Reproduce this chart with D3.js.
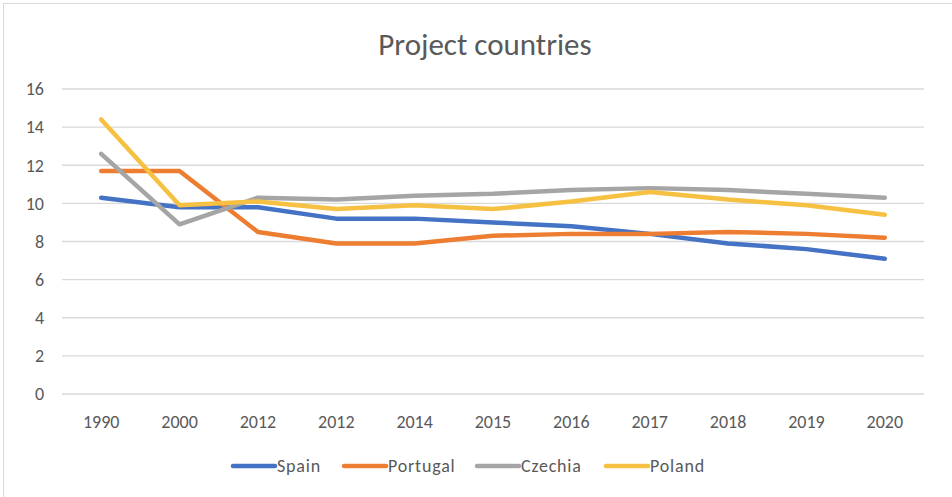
<!DOCTYPE html>
<html>
<head>
<meta charset="utf-8">
<script src="https://cdn.jsdelivr.net/npm/d3@7"></script>
<style>
  body { margin: 0; background: #fff; }
  svg { font-family: Calibri, Carlito, Lato, "Open Sans", sans-serif; }
</style>
</head>
<body>
<div id="chart"></div>
<script>
// data
var years = ["1990", "2000", "2012", "2012", "2014", "2015", "2016", "2017", "2018", "2019", "2020"];
var spain    = [10.3, 9.8, 9.8, 9.2, 9.2, 9.0, 8.8, 8.4, 7.9, 7.6, 7.1];
var portugal = [11.7, 11.7, 8.5, 7.9, 7.9, 8.3, 8.4, 8.4, 8.5, 8.4, 8.2];
var czechia  = [12.6, 8.9, 10.3, 10.2, 10.4, 10.5, 10.7, 10.8, 10.7, 10.5, 10.3];
var poland   = [14.4, 9.9, 10.1, 9.7, 9.9, 9.7, 10.1, 10.6, 10.2, 9.9, 9.4];
var seriesNames = ["Spain", "Portugal", "Czechia", "Poland"];
var yTicks = [0, 2, 4, 6, 8, 10, 12, 14, 16];

var series = [spain, portugal, czechia, poland];
var color = d3.scaleOrdinal()
    .domain(seriesNames)
    .range(["#4472C4", "#ED7D31", "#A5A5A5", "#F6C142"]);

var W = 952, H = 497;
var margin = {top: 89, right: 28, bottom: 103, left: 62};

var svg = d3.select("#chart").append("svg")
    .attr("width", W)
    .attr("height", H);

// frame
svg.append("rect")
    .attr("x", 3.5).attr("y", 3.5)
    .attr("width", W + 10).attr("height", H + 10)
    .attr("fill", "#fff")
    .attr("stroke", "#d9d9d9");

// title
svg.append("text")
    .attr("x", 485).attr("y", 55)
    .attr("text-anchor", "middle")
    .style("font-size", "31px")
    .style("fill", "#595959")
    .text("Project countries");

var idx = d3.range(years.length);
var x = d3.scaleBand()
    .domain(idx)
    .range([margin.left, W - margin.right]);

var y = d3.scaleLinear()
    .domain([0, 16])
    .range([H - margin.bottom, margin.top]);

// gridlines
svg.append("g")
    .selectAll("line")
    .data(yTicks)
    .enter().append("line")
    .attr("x1", margin.left)
    .attr("x2", W - margin.right)
    .attr("y1", function (d) { return y(d); })
    .attr("y2", function (d) { return y(d); })
    .attr("stroke", "#d9d9d9")
    .attr("stroke-width", 1.3);

// y axis labels
svg.append("g")
    .selectAll("text")
    .data(yTicks)
    .enter().append("text")
    .attr("x", 44)
    .attr("y", function (d) { return y(d); })
    .attr("dy", "0.35em")
    .attr("text-anchor", "end")
    .style("font-size", "18px")
    .style("fill", "#595959")
    .text(function (d) { return d; });

// x axis labels
svg.append("g")
    .selectAll("text")
    .data(idx)
    .enter().append("text")
    .attr("x", function (i) { return x(i) + x.bandwidth() / 2; })
    .attr("y", y(0) + 34)
    .attr("text-anchor", "middle")
    .style("font-size", "18px")
    .style("fill", "#595959")
    .text(function (i) { return years[i]; });

// lines
var line = d3.line()
    .x(function (d, i) { return x(i) + x.bandwidth() / 2; })
    .y(function (d) { return y(d); });

svg.append("g")
    .selectAll("path")
    .data(series)
    .enter().append("path")
    .attr("d", line)
    .attr("fill", "none")
    .attr("stroke", function (d, i) { return color(seriesNames[i]); })
    .attr("stroke-width", 4.5)
    .attr("stroke-linejoin", "round")
    .attr("stroke-linecap", "round");

// legend
var legendX = [233, 344, 477, 606];
var lg = svg.append("g")
    .selectAll("g")
    .data(seriesNames)
    .enter().append("g")
    .attr("transform", function (d, i) { return "translate(" + legendX[i] + ",466)"; });

lg.append("line")
    .attr("x1", 0).attr("x2", 42)
    .attr("stroke", function (d) { return color(d); })
    .attr("stroke-width", 4.5)
    .attr("stroke-linecap", "round");

lg.append("text")
    .attr("x", 44)
    .attr("dy", "0.35em")
    .style("font-size", "18px")
    .style("letter-spacing", "0.8px")
    .style("fill", "#595959")
    .text(function (d) { return d; });
</script>
</body>
</html>
